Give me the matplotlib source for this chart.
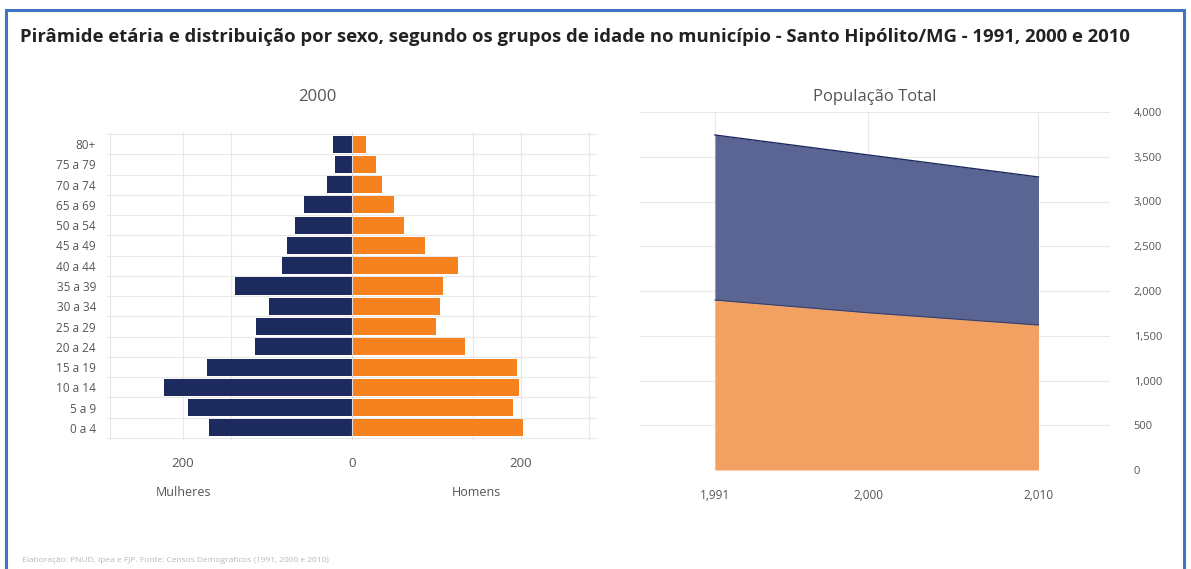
import matplotlib
matplotlib.use("Agg")
import matplotlib.pyplot as plt
from matplotlib.patches import Rectangle
from matplotlib.ticker import FuncFormatter

plt.rcParams['font.family'] = ['Open Sans', 'DejaVu Sans']

# ---------------- data ----------------
age_groups = ["0 a 4", "5 a 9", "10 a 14", "15 a 19", "20 a 24", "25 a 29",
              "30 a 34", "35 a 39", "40 a 44", "45 a 49", "50 a 54",
              "65 a 69", "70 a 74", "75 a 79", "80+"]
mulheres_2000 = [169, 194, 222, 172, 115, 114, 98, 139, 83, 77, 67, 57, 29, 20, 23]
homens_2000 = [202, 190, 198, 195, 134, 99, 104, 108, 126, 87, 62, 50, 36, 29, 17]

anos = [1991, 2000, 2010]
homens_total = [1899, 1757, 1620]
mulheres_total = [1844, 1763, 1654]

pyr_ticks = [-200, 0, 200]
pyr_ticklabels = ["200", "0", "200"]
pyr_grid = [-287, -200, -143, 143, 200, 281]
pop_ticks = [0, 500, 1000, 1500, 2000, 2500, 3000, 3500, 4000]

NAVY = "#1d2a5e"
ORANGE = "#f5821f"
AREA_BLUE = "#5a6594"
AREA_ORANGE = "#f2a163"
GRID = "#e8e8e8"
TXT = "#555555"

W, H = 1191, 569
fig = plt.figure(figsize=(W / 100, H / 100), dpi=100)

def box(x0, y0, x1, y1):
    return [x0 / W, 1 - y1 / H, (x1 - x0) / W, (y1 - y0) / H]

# outer frame
fig.patches.append(Rectangle((6 / W, -0.02), (1184 - 6) / W, 1.02 - 10 / H,
                             transform=fig.transFigure, fill=False,
                             edgecolor="#4472c4", linewidth=2.2))

fig.text(20 / W, 1 - 37 / H,
         "Pirâmide etária e distribuição por sexo, segundo os grupos de idade no município - Santo Hipólito/MG - 1991, 2000 e 2010",
         fontsize=13.3, fontweight="bold", color="#222222", va="center", ha="left")

# ---------------- pyramid ----------------
ax1 = fig.add_axes(box(107, 132, 597, 440))
ypos = list(range(len(age_groups)))
ax1.barh(ypos, [-v for v in mulheres_2000], height=0.84, color=NAVY, zorder=3)
ax1.barh(ypos, homens_2000, height=0.84, color=ORANGE, zorder=3)
ax1.set_xlim(-290, 290)
ax1.set_ylim(-0.6, len(age_groups) - 0.4)
ax1.set_yticks(ypos)
ax1.set_yticklabels(age_groups, fontsize=8.5, color=TXT)
ax1.set_xticks(pyr_ticks)
ax1.set_xticklabels(pyr_ticklabels, fontsize=9.5, color=TXT)
for g in pyr_grid:
    ax1.axvline(g, color=GRID, linewidth=0.8, zorder=0)
for y in ypos:
    ax1.axhline(y - 0.5, color=GRID, linewidth=0.8, zorder=0)
ax1.axhline(len(age_groups) - 0.5, color=GRID, linewidth=0.8, zorder=0)
ax1.axvline(0, color="#dddddd", linewidth=0.8, zorder=4)
ax1.tick_params(length=0, pad=8)
ax1.tick_params(axis="x", pad=12)
for s in ax1.spines.values():
    s.set_visible(False)
ax1.set_title("2000", fontsize=12, color=TXT, pad=22, x=0.43)
ax1.text(-200, -3.2, "Mulheres", fontsize=9, color=TXT, ha="center", va="center")
ax1.text(147, -3.2, "Homens", fontsize=9, color=TXT, ha="center", va="center")

# ---------------- area ----------------
ax2 = fig.add_axes(box(640, 112, 1110, 470))
tot = [h + m for h, m in zip(homens_total, mulheres_total)]
ax2.fill_between(anos, 0, homens_total, color=AREA_ORANGE, linewidth=0, zorder=3)
ax2.fill_between(anos, homens_total, tot, color=AREA_BLUE, linewidth=0, zorder=3)
ax2.plot(anos, homens_total, color="#3a3f66", linewidth=0.8, zorder=4)
ax2.plot(anos, tot, color="#1d2a5e", linewidth=1.0, zorder=4)
ax2.set_xlim(1986.6, 2014.2)
ax2.set_ylim(0, 4000)
ax2.set_xticks(anos)
ax2.set_xticklabels(["{:,}".format(a) for a in anos], fontsize=8.5, color=TXT)
ax2.set_yticks(pop_ticks)
ax2.yaxis.set_major_formatter(FuncFormatter(lambda v, p: "{:,}".format(int(v))))
ax2.yaxis.tick_right()
ax2.tick_params(axis="y", labelsize=8, labelcolor=TXT, length=0, pad=17)
ax2.tick_params(axis="x", length=0, pad=14)
ax2.grid(True, color=GRID, linewidth=0.8, zorder=0)
for s in ax2.spines.values():
    s.set_visible(False)
ax2.set_title("População Total", fontsize=12, color=TXT, pad=8)

fig.text(22 / W, 1 - 561 / H,
         "Elaboração: PNUD, Ipea e FJP. Fonte: Censos Demográficos (1991, 2000 e 2010)",
         fontsize=6, color="#b8b8b8", va="center", ha="left")

fig.savefig("out.png", dpi=100)
